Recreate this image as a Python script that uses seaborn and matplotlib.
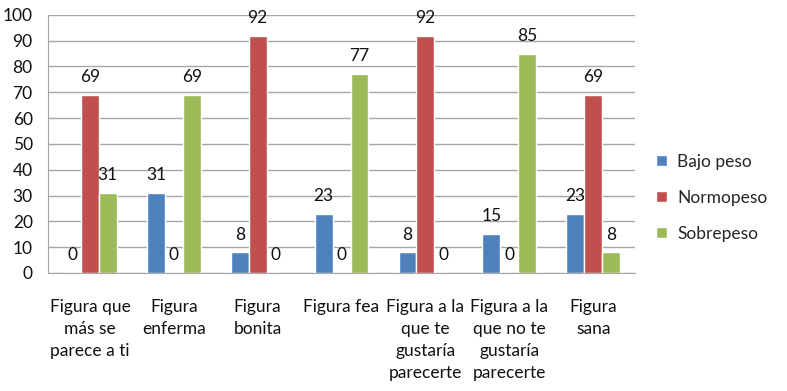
import pandas as pd
import numpy as np
import matplotlib
matplotlib.use('Agg')
import matplotlib.pyplot as plt
import seaborn as sns

categories = ['Figura que\nmás se\nparece a ti', 'Figura\nenferma', 'Figura\nbonita', 'Figura fea',
              'Figura a la\nque te\ngustaría\nparecerte', 'Figura a la\nque no te\ngustaría\nparecerte',
              'Figura\nsana']
bajo_peso = [0, 31, 8, 23, 8, 15, 23]
normopeso = [69, 0, 92, 0, 92, 0, 69]
sobrepeso = [31, 69, 0, 77, 0, 85, 8]
series = ['Bajo peso', 'Normopeso', 'Sobrepeso']
colors = ['#4F81BD', '#C0504D', '#9BBB59']

df = pd.DataFrame({'categoria': categories * 3,
                   'serie': [s for s in series for _ in categories],
                   'valor': bajo_peso + normopeso + sobrepeso})

sns.set_style('white')
plt.rcParams['font.family'] = ['Lato', 'DejaVu Sans']

fig = plt.figure(figsize=(7.87, 3.91), dpi=100)
ax = fig.add_axes([0.061, 0.302, 0.746, 0.660])
sns.barplot(data=df, x='categoria', y='valor', hue='serie', palette=colors,
            width=0.64, ax=ax, saturation=1, legend=True)

for c in ax.containers:
    ax.bar_label(c, fmt='%d', padding=7, fontsize=12.5, color='#111111')

ax.set_ylim(0, 100)
ax.set_xlim(-0.5, 6.5)
ax.set_yticks(range(0, 101, 10))
ax.yaxis.grid(True, color='#A6A6A6', linewidth=1)
ax.set_axisbelow(True)
ax.set_xlabel('')
ax.set_ylabel('')
for s in ['top', 'right']:
    ax.spines[s].set_visible(False)
for s in ['left', 'bottom']:
    ax.spines[s].set_color('#A6A6A6')
ax.tick_params(axis='y', labelsize=12.5, length=5, color='#A6A6A6', pad=6, labelcolor='#111111')
ax.tick_params(axis='x', which='major', length=0, labelsize=12.5, pad=19, labelcolor='#111111')
for t in ax.get_xticklabels():
    t.set_multialignment('center')
    t.set_linespacing(1.45)
ax.set_xticks(np.arange(-0.5, 7, 1), minor=True)
ax.tick_params(axis='x', which='minor', length=5, color='#A6A6A6', direction='out')

handles, labels = ax.get_legend_handles_labels()
ax.get_legend().remove()
fig.legend(handles, labels, loc='center left', bbox_to_anchor=(0.814, 0.494), frameon=False,
           fontsize=12.5, handlelength=0.6, handleheight=0.6, labelspacing=1.15, handletextpad=0.6)

fig.savefig('out.png', dpi=100)
